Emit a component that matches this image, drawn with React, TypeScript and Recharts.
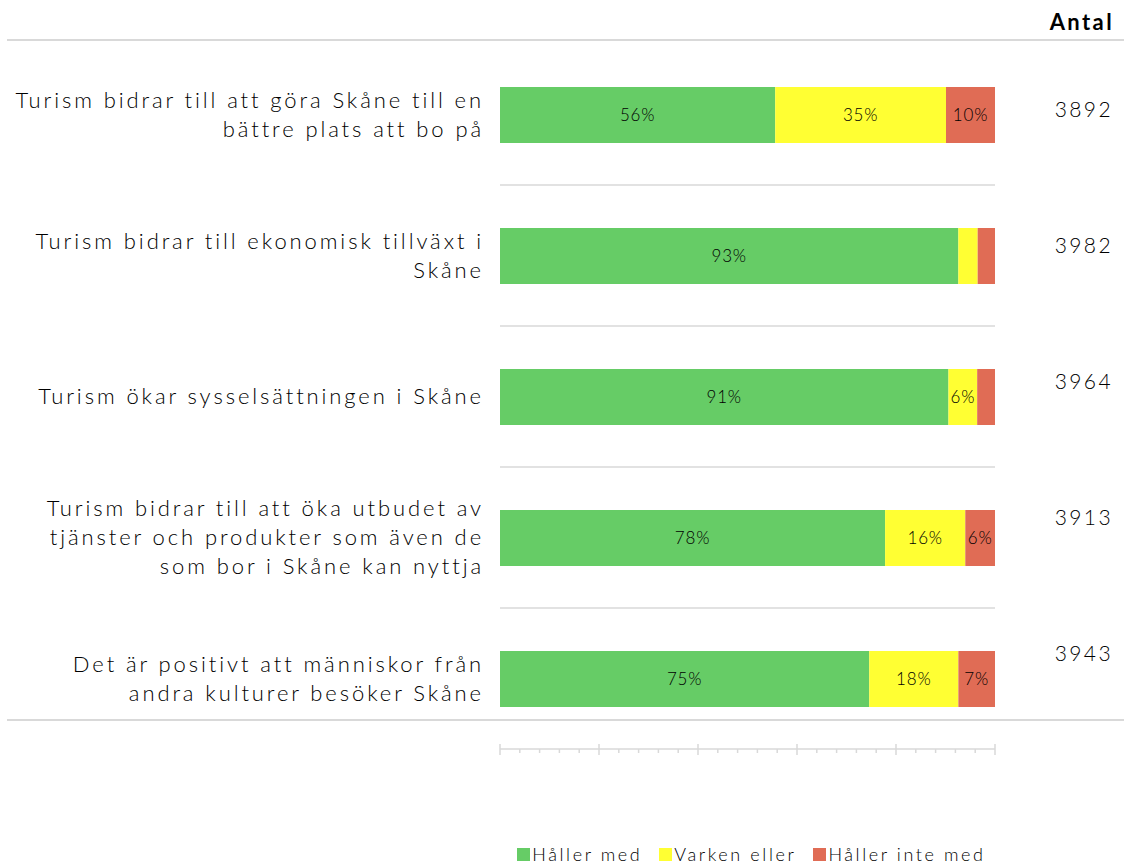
import { Bar, BarChart, CartesianGrid, LabelList, Legend, XAxis, YAxis } from "recharts";

const categories = [
  "Turism bidrar till att göra Skåne till en\nbättre plats att bo på",
  "Turism bidrar till ekonomisk tillväxt i\nSkåne",
  "Turism ökar sysselsättningen i Skåne",
  "Turism bidrar till att öka utbudet av\ntjänster och produkter som även de\nsom bor i Skåne kan nyttja",
  "Det är positivt att människor från\nandra kulturer besöker Skåne",
];
const agree = [55.6, 92.6, 90.6, 77.8, 74.6];
const neither = [34.5, 3.9, 5.8, 16.2, 18.0];
const disagree = [9.9, 3.5, 3.6, 6.0, 7.4];
const counts = [3892, 3982, 3964, 3913, 3943];
const xTicks = [0, 4, 8, 12, 16, 20, 24, 28, 32, 36, 40, 44, 48, 52, 56, 60, 64, 68, 72, 76, 80, 84, 88, 92, 96, 100];

const seriesNames = ["Håller med", "Varken eller", "Håller inte med"];
const colors = ["#66cc66", "#ffff33", "#e06c55"];

const data = categories.map((name, i) => ({
  name,
  agree: agree[i],
  neither: neither[i],
  disagree: disagree[i],
  count: counts[i],
}));

const FONT = "Lato, 'DejaVu Sans', sans-serif";
const GRAY = "#d9d9d9";

function CategoryTick({ x, y, payload }: any) {
  const lines = String(payload.value).split("\n");
  const lh = 29;
  const start = y - ((lines.length - 1) * lh) / 2;
  const tx = x - 8;
  return (
    <text x={tx} y={start} textAnchor="end" fontSize={22} fontWeight={300} fill="#000" fontFamily={FONT} style={{ letterSpacing: "2.9px" }}>
      {lines.map((l, i) => (
        <tspan key={i} x={tx} y={start + i * lh} dy="0.35em">
          {l}
        </tspan>
      ))}
    </text>
  );
}

function CountTick({ x, y, index }: any) {
  return (
    <text x={x + 110} y={y - 5 * (index + 1)} dy="0.35em" textAnchor="end" fontSize={21} fontWeight={300} fill="#000" fontFamily={FONT} style={{ letterSpacing: "2.4px" }}>
      {data[index] ? data[index].count : ""}
    </text>
  );
}

function AxisTick({ x, y, payload }: any) {
  const major = payload.value % 20 === 0;
  return <line x1={x} x2={x} y1={major ? y - 5 : y} y2={major ? y + 6 : y + 4} stroke={GRAY} strokeWidth={1.5} />;
}

function PctLabel({ x, y, width, height, value }: any) {
  if (value < 5) return null;
  return (
    <text x={x + width / 2} y={y + height / 2} dy="0.35em" textAnchor="middle" fontSize={17} fontWeight={300} fill="#000" fontFamily={FONT} style={{ letterSpacing: "0.8px" }}>
      {Math.round(value)}%
    </text>
  );
}

function LegendContent() {
  return (
    <div style={{ display: "flex", justifyContent: "center", gap: 17, fontFamily: FONT, fontWeight: 300, fontSize: 18, color: "#000", letterSpacing: "2.6px" }}>
      {seriesNames.map((n, i) => (
        <div key={n} style={{ display: "flex", alignItems: "center" }}>
          <span style={{ display: "inline-block", width: 13, height: 13, background: colors[i], marginRight: 2 }} />
          <span>{n}</span>
        </div>
      ))}
    </div>
  );
}

export default function App() {
  const keys = ["agree", "neither", "disagree"];
  return (
    <div style={{ position: "absolute", left: 0, top: 0, width: 1124, height: 865, background: "#fff", overflow: "hidden" }}>
      <div style={{ position: "absolute", left: 7, right: 0, top: 39, height: 2, background: GRAY }} />
      <div style={{ position: "absolute", left: 7, right: 0, top: 719, height: 2, background: GRAY }} />
      <div style={{ position: "absolute", right: 10, top: 8, fontFamily: FONT, fontWeight: 700, fontSize: 22, color: "#000", letterSpacing: "2.4px" }}>
        Antal
      </div>
      <BarChart
        width={1124}
        height={865}
        data={data}
        layout="vertical"
        margin={{ top: 44, right: 0, bottom: 86, left: 0 }}
        style={{ position: "absolute", left: 0, top: 0 }}
      >
        <CartesianGrid
          vertical={false}
          stroke={GRAY}
          strokeWidth={1.5}
          horizontalCoordinatesGenerator={({ offset }: any) => {
            const band = offset.height / categories.length;
            return categories.slice(1).map((_, i) => offset.top + band * (i + 1));
          }}
        />
        <XAxis
          type="number"
          domain={[0, 100]}
          ticks={xTicks}
          interval={0}
          tickLine={false}
          tickSize={0}
          tickMargin={0}
          tick={<AxisTick />}
          axisLine={{ stroke: GRAY, strokeWidth: 1.5 }}
          height={30}
        />
        <YAxis type="category" dataKey="name" width={500} axisLine={false} tickLine={false} tick={<CategoryTick />} interval={0} />
        <YAxis
          yAxisId="right"
          orientation="right"
          type="category"
          dataKey="name"
          width={129}
          axisLine={false}
          tickLine={false}
          tick={<CountTick />}
          interval={0}
        />
        {keys.map((k, i) => (
          <Bar key={k} dataKey={k} name={seriesNames[i]} stackId="a" fill={colors[i]} barSize={56} isAnimationActive={false}>
            <LabelList dataKey={k} content={<PctLabel />} />
          </Bar>
        ))}
        <Legend
          verticalAlign="middle"
          align="center"
          content={<LegendContent />}
          wrapperStyle={{ left: 504, width: 495, top: 843, bottom: "auto" }}
        />
      </BarChart>
    </div>
  );
}
